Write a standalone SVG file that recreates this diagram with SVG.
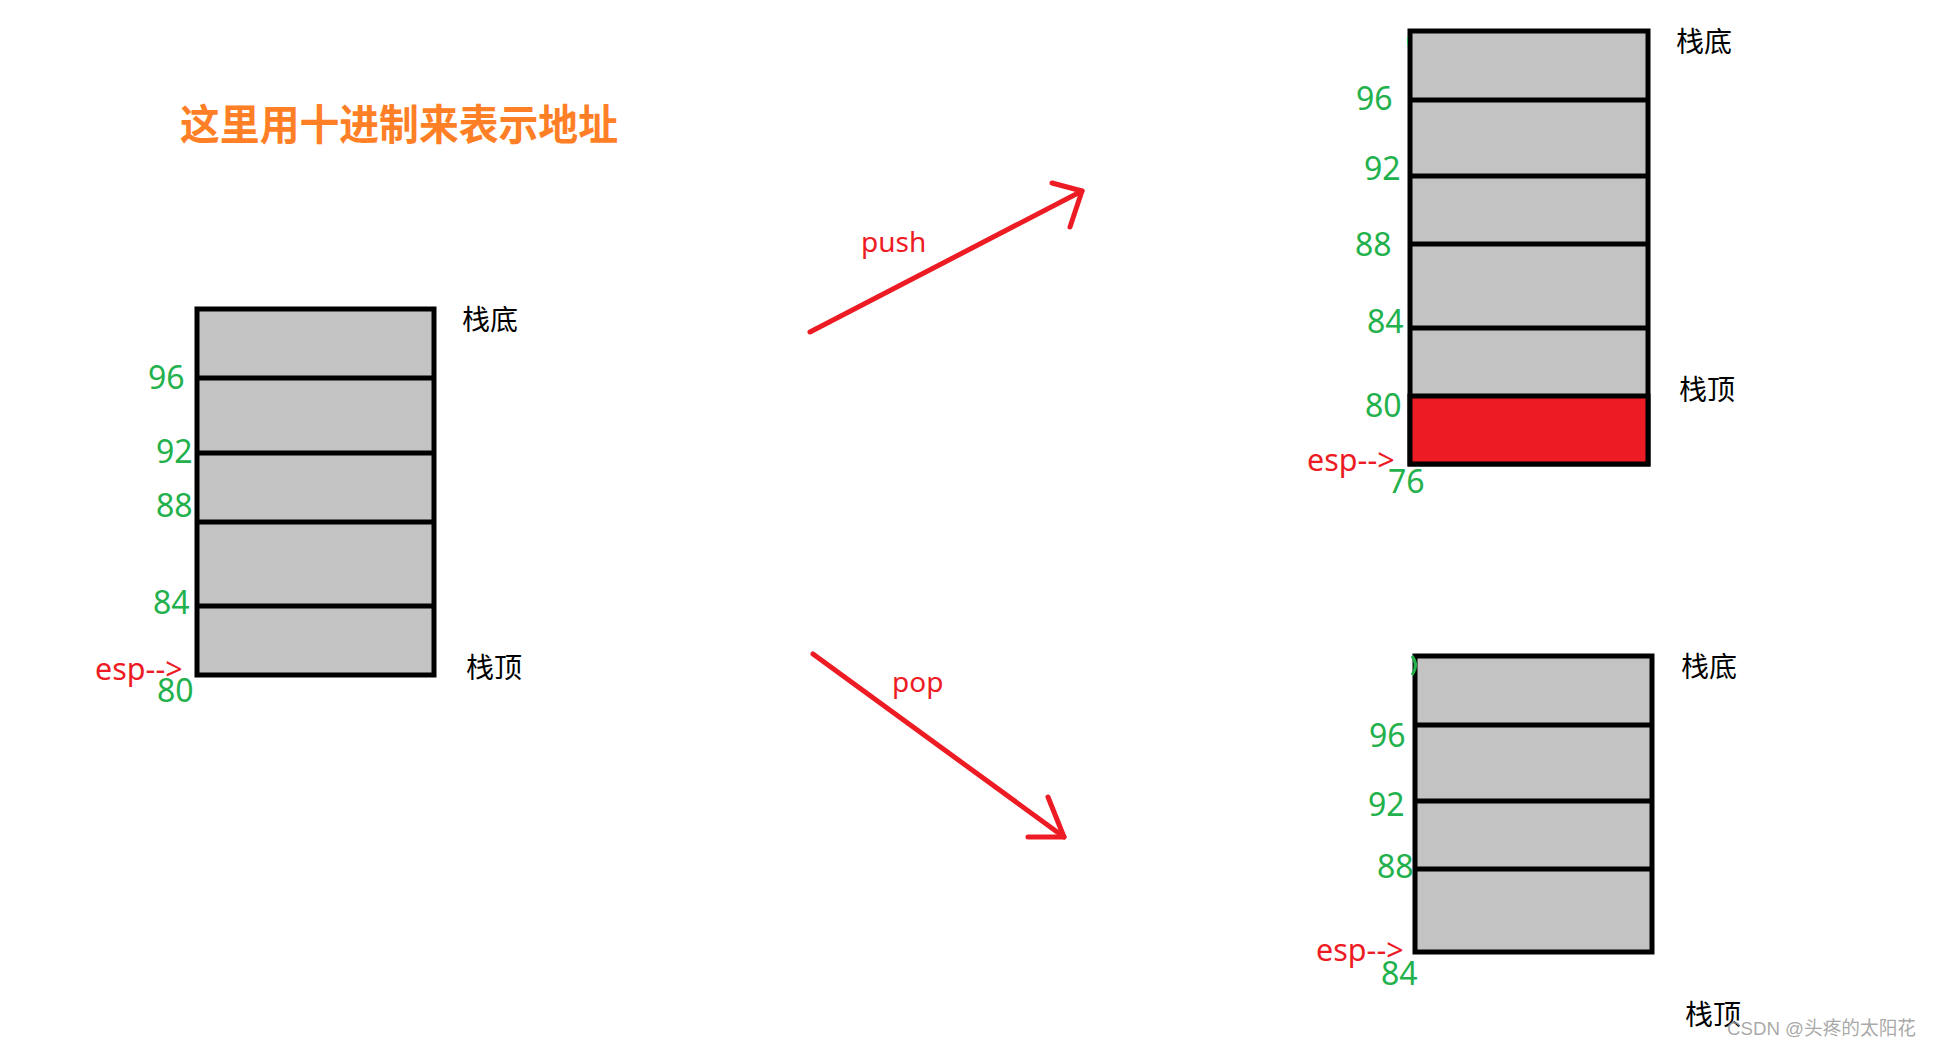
<svg xmlns="http://www.w3.org/2000/svg" width="1933" height="1047" viewBox="0 0 1933 1047">
<style>
.cell{fill:#c3c3c3;stroke:#000;stroke-width:5}
.div{stroke:#000;stroke-width:5}
.num{font-family:"Noto Sans","Open Sans",sans-serif;font-size:32px;fill:#22b14c}
.esp{font-family:"Noto Sans","Open Sans",sans-serif;font-size:30.5px;fill:#ed1c24}
.lbl{font-family:"Noto Sans CJK SC","Noto Sans",sans-serif;font-size:28px;fill:#000}
.op{font-family:"Noto Sans","Open Sans",sans-serif;font-size:28px;fill:#ed1c24}
.arrow{stroke:#ed1c24;stroke-width:5;fill:none;stroke-linecap:round;stroke-linejoin:round}
</style>
<rect width="1933" height="1047" fill="#fff"/>
<text x="180" y="140" font-family="'Noto Sans CJK SC',sans-serif" font-size="42" font-weight="bold" fill="#ff7f27" textLength="438" lengthAdjust="spacingAndGlyphs">这里用十进制来表示地址</text>

<g id="stack-initial">
<rect class="cell" x="197" y="309" width="237" height="366"/>
<line class="div" x1="197" y1="378" x2="434" y2="378"/>
<line class="div" x1="197" y1="453" x2="434" y2="453"/>
<line class="div" x1="197" y1="522" x2="434" y2="522"/>
<line class="div" x1="197" y1="606" x2="434" y2="606"/>
<text class="num" x="148" y="389">96</text>
<text class="num" x="156" y="463">92</text>
<text class="num" x="156" y="517">88</text>
<text class="num" x="153" y="614">84</text>
<text class="num" x="157" y="702">80</text>
<text class="esp" x="95" y="680">esp--&gt;</text>
<text class="lbl" x="462" y="330">栈底</text>
<text class="lbl" x="466" y="678">栈顶</text>
</g>

<g id="stack-push">
<rect class="cell" x="1410" y="31" width="238" height="433"/>
<rect x="1410" y="396" width="238" height="68" fill="#ed1c24" stroke="#000" stroke-width="5"/>
<line class="div" x1="1410" y1="100" x2="1648" y2="100"/>
<line class="div" x1="1410" y1="176" x2="1648" y2="176"/>
<line class="div" x1="1410" y1="244" x2="1648" y2="244"/>
<line class="div" x1="1410" y1="328" x2="1648" y2="328"/>
<line x1="1407.5" y1="37" x2="1407.5" y2="45" stroke="#22b14c" stroke-width="1"/>
<text class="num" x="1356" y="110">96</text>
<text class="num" x="1364" y="180">92</text>
<text class="num" x="1355" y="256">88</text>
<text class="num" x="1367" y="333">84</text>
<text class="num" x="1365" y="417">80</text>
<text class="num" x="1388" y="493">76</text>
<text class="esp" x="1307" y="471">esp--&gt;</text>
<text class="lbl" x="1676" y="52">栈底</text>
<text class="lbl" x="1679" y="400">栈顶</text>
</g>

<g id="stack-pop">
<rect class="cell" x="1415" y="656" width="237" height="296"/>
<line class="div" x1="1415" y1="725" x2="1652" y2="725"/>
<line class="div" x1="1415" y1="801" x2="1652" y2="801"/>
<line class="div" x1="1415" y1="869" x2="1652" y2="869"/>
<path d="M1412,656 Q1419,665 1412,675" stroke="#22b14c" stroke-width="3" fill="none"/>
<text class="num" x="1369" y="747">96</text>
<text class="num" x="1368" y="816">92</text>
<text class="num" x="1377" y="878">88</text>
<text class="num" x="1381" y="985">84</text>
<text class="esp" x="1316" y="961">esp--&gt;</text>
<text class="lbl" x="1681" y="677">栈底</text>
<text class="lbl" x="1685" y="1025">栈顶</text>
</g>

<g id="connectors">
<g id="push-arrow">
<line class="arrow" x1="810" y1="332" x2="1082" y2="191"/>
<polyline class="arrow" points="1052,183 1082,191 1070,227"/>
<text class="op" x="861" y="252">push</text>
</g>
<g id="pop-arrow">
<line class="arrow" x1="813" y1="654" x2="1064" y2="837"/>
<polyline class="arrow" points="1048,797 1064,837 1028,837"/>
<text class="op" x="892" y="692">pop</text>
</g>
</g>

<text x="1727" y="1035" font-family="'Liberation Sans','Noto Sans CJK SC',sans-serif" font-size="19" fill="#999" fill-opacity="0.85" textLength="189" lengthAdjust="spacingAndGlyphs">CSDN @头疼的太阳花</text>
</svg>
